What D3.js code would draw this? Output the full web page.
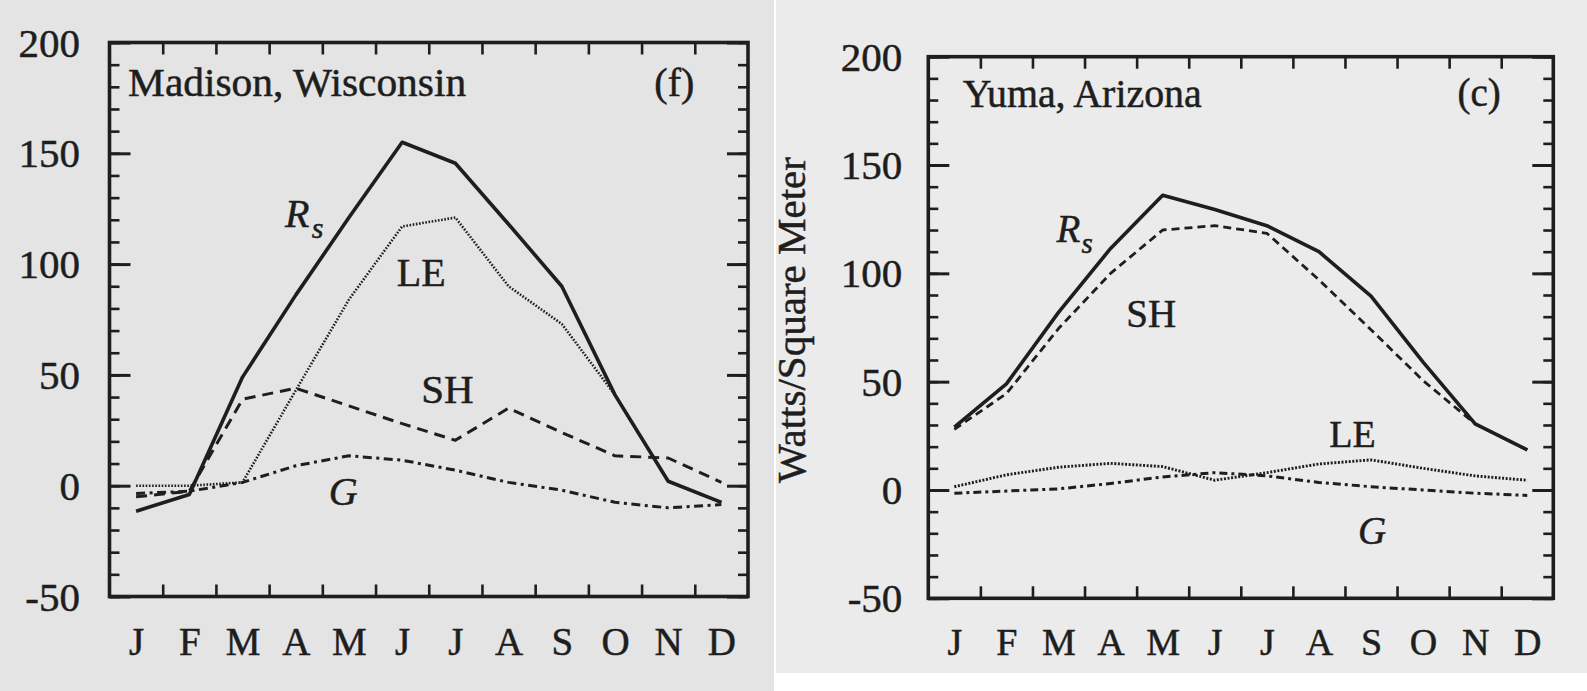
<!DOCTYPE html>
<html>
<head>
<meta charset="utf-8">
<script src="https://cdn.jsdelivr.net/npm/d3@7"></script>
<style>
  html, body { margin: 0; padding: 0; background: #ffffff; }
  svg { display: block; }
  text { font-family: "Liberation Serif", "Times New Roman", serif; fill: #1e1e1e; stroke: #1e1e1e; stroke-width: 0.5px; }
</style>
</head>
<body>
<svg id="chart" width="1587" height="691"></svg>
<script>
// Month initials along the horizontal axis
const months = ["J", "F", "M", "A", "M", "J", "J", "A", "S", "O", "N", "D"];
// Labelled tick values on the energy axis (W/m²)
const yTickLabels = [-50, 0, 50, 100, 150, 200];
const yMinorTicks = d3.range(-50, 201, 10);
// Month boundaries, where the small ticks on the top and bottom edges sit
const monthBoundaries = d3.range(1.5, 12, 1);

// Madison, Wisconsin – monthly mean surface energy fluxes (W/m²)
const madisonRs = [-11.5, -4, 49, 86, 121, 155, 145.5, 118, 90, 41, 2, -7.5];
const madisonLE = [0, 0, 1.5, 43, 84, 117, 121, 90, 73, 41, 2, -7.5];
const madisonSH = [-5, -2.5, 39, 44, 36, 28, 20.5, 35, 24, 13.5, 12.5, 1.5];
const madisonG  = [-3.5, -2.5, 1.5, 9, 13.5, 11.5, 7, 1.5, -2, -7.5, -10, -8.5];

// Yuma, Arizona – monthly mean surface energy fluxes (W/m²)
const yumaRs = [29, 49, 82, 111.5, 136, 129.5, 122, 110, 89.5, 59, 30.5, 18.5];
const yumaSH = [28, 44.5, 74.5, 100, 120, 122, 118.5, 97, 74, 50.5, 30.5, 18.5];
const yumaLE = [1.5, 7, 10.5, 12.3, 10.8, 4.5, 8, 12, 13.9, 10, 6.5, 4.5];
const yumaG  = [-1.5, -0.5, 0.5, 3, 6, 8, 6.5, 3.5, 1.5, 0, -1.5, -2.5];

const svg = d3.select("#chart");
const ink = "#1e1e1e";

// Two scanned panels: slightly different paper tones
svg.append("rect").attr("x", 0).attr("y", 0).attr("width", 774).attr("height", 691).attr("fill", "#e4e4e4");
svg.append("rect").attr("x", 776).attr("y", 0).attr("width", 811).attr("height", 673).attr("fill", "#ebebeb");

function drawPanel(p) {
  const x = d3.scaleLinear().domain([0.5, 12.5]).range([p.left, p.right]);
  const y = d3.scaleLinear().domain([-50, 200]).range([p.bottom, p.top]);
  const g = svg.append("g");

  const styleTicks = (sel, w) => {
    sel.select(".domain").remove();
    sel.attr("font-family", null).attr("font-size", null);
    sel.selectAll(".tick line").attr("stroke", ink).attr("stroke-width", w);
  };

  // Inward ticks on all four edges
  g.append("g").attr("transform", `translate(${p.left},0)`)
    .call(d3.axisLeft(y).tickValues(yMinorTicks).tickSize(-10).tickFormat(""))
    .call(s => styleTicks(s, 2.6));
  g.append("g").attr("transform", `translate(${p.right},0)`)
    .call(d3.axisRight(y).tickValues(yMinorTicks).tickSize(-10).tickFormat(""))
    .call(s => styleTicks(s, 2.6));
  g.append("g").attr("transform", `translate(${p.right},0)`)
    .call(d3.axisRight(y).tickValues(yTickLabels).tickSize(-21).tickFormat(""))
    .call(s => styleTicks(s, 3));
  g.append("g").attr("transform", `translate(0,${p.top})`)
    .call(d3.axisTop(x).tickValues(monthBoundaries).tickSize(-12).tickFormat(""))
    .call(s => styleTicks(s, 2.6));
  g.append("g").attr("transform", `translate(0,${p.bottom})`)
    .call(d3.axisBottom(x).tickValues(monthBoundaries).tickSize(-12).tickFormat(""))
    .call(s => styleTicks(s, 2.6));

  // Labelled energy axis (plain hyphen for negatives)
  const yAxis = g.append("g").attr("transform", `translate(${p.left},0)`)
    .call(d3.axisLeft(y).tickValues(yTickLabels).tickSize(-21).tickPadding(p.tickPad).tickFormat(d => String(d)))
    .call(s => styleTicks(s, 3));
  yAxis.selectAll(".tick text")
    .attr("fill", ink).attr("font-size", p.tickFont).attr("dy", "0.33em");

  // Month axis
  const xAxis = g.append("g").attr("transform", `translate(0,${p.bottom})`)
    .call(d3.axisBottom(x).tickValues(d3.range(1, 13)).tickSize(0).tickFormat(i => months[i - 1]));
  xAxis.select(".domain").remove();
  xAxis.attr("font-family", null).attr("font-size", null);
  xAxis.selectAll(".tick text")
    .attr("fill", ink).attr("font-size", p.monthFont)
    .attr("y", p.monthBaseline).attr("dy", 0);

  // Plot frame
  g.append("rect")
    .attr("x", p.left).attr("y", p.top)
    .attr("width", p.right - p.left).attr("height", p.bottom - p.top)
    .attr("fill", "none").attr("stroke", ink).attr("stroke-width", 3.6);

  // Flux curves (net radiation drawn last, on top)
  const line = d3.line().x((d, i) => x(i + 1)).y(d => y(d));
  p.series.forEach(s => {
    g.append("path")
      .datum(s.values)
      .attr("d", line)
      .attr("fill", "none")
      .attr("stroke", ink)
      .attr("stroke-width", s.width)
      .attr("stroke-dasharray", s.dash)
      .attr("stroke-linejoin", "round");
  });

  // Annotations
  p.labels.forEach(l => {
    g.append("text")
      .attr("x", x(l.m)).attr("y", y(l.v))
      .attr("font-size", l.size)
      .attr("font-style", l.italic ? "italic" : null)
      .attr("textLength", l.len || null)
      .attr("lengthAdjust", l.len ? "spacingAndGlyphs" : null)
      .text(l.text);
  });

  return { x, y, g };
}

drawPanel({
  left: 109.5, right: 748, top: 42.5, bottom: 596.5,
  tickPad: 29.5, tickFont: 41, monthFont: 39, monthBaseline: 58.5,
  series: [
    { values: madisonG,  width: 3,   dash: "9,4.5,3,4.5" },
    { values: madisonLE, width: 2.6, dash: "1.6,1.6" },
    { values: madisonSH, width: 3,   dash: "11,7" },
    { values: madisonRs, width: 3.6, dash: null }
  ],
  labels: [
    { text: "Madison, Wisconsin", m: 0.85, v: 175.8, size: 40, len: 338 },
    { text: "(f)", m: 10.74, v: 175.8, size: 40 },
    { text: "R", m: 3.80, v: 116.8, size: 40, italic: true },
    { text: "s", m: 4.30, v: 111.8, size: 30, italic: true },
    { text: "LE", m: 5.90, v: 90, size: 40 },
    { text: "SH", m: 6.36, v: 37.4, size: 41 },
    { text: "G", m: 4.62, v: -8.6, size: 40, italic: true }
  ]
});

drawPanel({
  left: 928.3, right: 1553.3, top: 56.7, bottom: 598.3,
  tickPad: 26, tickFont: 41, monthFont: 38, monthBaseline: 56.7,
  series: [
    { values: yumaG,  width: 3,   dash: "8,4,3,4" },
    { values: yumaLE, width: 2.9, dash: "2,1.6" },
    { values: yumaSH, width: 2.8, dash: "8,5" },
    { values: yumaRs, width: 3.6, dash: null }
  ],
  labels: [
    { text: "Yuma, Arizona", m: 1.16, v: 176.8, size: 39, len: 239 },
    { text: "(c)", m: 10.66, v: 177.3, size: 39 },
    { text: "R", m: 2.96, v: 114.6, size: 39, italic: true },
    { text: "s", m: 3.44, v: 109.4, size: 29, italic: true },
    { text: "SH", m: 4.30, v: 75.4, size: 39 },
    { text: "LE", m: 8.20, v: 20, size: 38 },
    { text: "G", m: 8.75, v: -25.1, size: 39, italic: true }
  ]
});

// Vertical axis title of the right panel
svg.append("text")
  .attr("transform", "translate(805,320) rotate(-90)")
  .attr("text-anchor", "middle")
  .attr("font-size", 39)
  .attr("textLength", 326)
  .attr("lengthAdjust", "spacingAndGlyphs")
  .text("Watts/Square Meter");
</script>
</body>
</html>
